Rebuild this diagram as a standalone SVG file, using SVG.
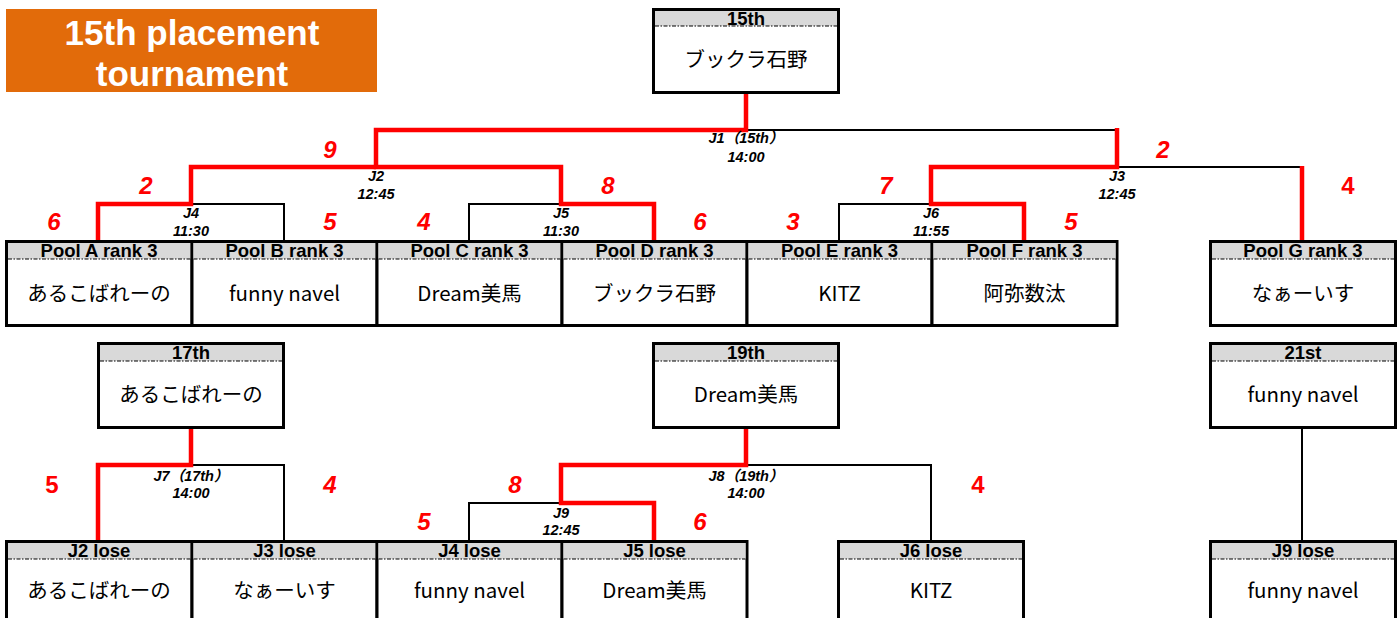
<svg xmlns="http://www.w3.org/2000/svg" width="1398" height="618" viewBox="0 0 1398 618">
<style>
.box{fill:#fff;stroke:#000;stroke-width:3}
.hd{fill:#d9d9d9}
.dash{stroke:#000;stroke-width:1.2;stroke-dasharray:4 1.5 1.5 1.5}
.ht{font-family:"Liberation Sans",Arial,sans-serif;font-weight:bold;font-size:18.5px;text-anchor:middle;fill:#000}
.nm{font-family:"Noto Sans CJK JP","Liberation Sans",sans-serif;font-size:20.5px;text-anchor:middle;fill:#000}
.blk{fill:none;stroke:#000;stroke-width:2}
.red{fill:none;stroke:#ff0000;stroke-width:4.5;stroke-linejoin:miter}
.ml{font-family:"Liberation Sans","Noto Sans CJK JP",Arial,sans-serif;font-weight:bold;font-style:italic;font-size:14.5px;text-anchor:middle;fill:#000}
.sc{font-family:"Liberation Sans",Arial,sans-serif;font-weight:bold;font-style:italic;font-size:24px;text-anchor:middle;fill:#ff0000}
.up{font-style:normal}
.title{font-family:"Liberation Sans",Arial,sans-serif;font-weight:bold;font-size:35px;text-anchor:middle;fill:#fff}
</style>

<g id="title">
<rect x="6" y="9" width="371" height="83" fill="#e26b0a"/>
<text class="title" x="192" y="45">15th placement</text>
<text class="title" x="192" y="86">tournament</text>
</g>

<g id="connectors">
<path class="blk" d="M746,130 H1117"/>
<path class="blk" d="M191,167 H376"/>
<path class="blk" d="M191,204 H284 V241"/>
<path class="blk" d="M561,204 H469 V241"/>
<path class="blk" d="M1117,167 H1302"/>
<path class="blk" d="M931,204 H839 V241"/>
<path class="red" d="M746,93 V130 H376 V167 H561 V204 H654 V241"/>
<path class="red" d="M376,167 H191 V204 H98 V241"/>
<path class="red" d="M1117,128 V167 H931 V204 H1024 V241"/>
<path class="red" d="M1302,166 V241"/>
<path class="blk" d="M191,465 H284 V541"/>
<path class="blk" d="M746,465 H931 V541"/>
<path class="blk" d="M561,503 H469 V541"/>
<path class="blk" d="M1302,428 V541"/>
<path class="red" d="M191,428 V465 H98 V541"/>
<path class="red" d="M746,428 V465 H561 V503 H654 V541"/>
</g>

<g id="match-labels">
<text class="ml" x="746" y="143">J1（15th）</text><text class="ml" x="746" y="162">14:00</text>
<text class="ml" x="376" y="181">J2</text><text class="ml" x="376" y="199">12:45</text>
<text class="ml" x="1117" y="181">J3</text><text class="ml" x="1117" y="199">12:45</text>
<text class="ml" x="191" y="218">J4</text><text class="ml" x="191" y="236">11:30</text>
<text class="ml" x="561" y="218">J5</text><text class="ml" x="561" y="236">11:30</text>
<text class="ml" x="931" y="218">J6</text><text class="ml" x="931" y="236">11:55</text>
<text class="ml" x="191" y="481">J7（17th）</text><text class="ml" x="191" y="498">14:00</text>
<text class="ml" x="746" y="481">J8（19th）</text><text class="ml" x="746" y="498">14:00</text>
<text class="ml" x="561" y="518">J9</text><text class="ml" x="561" y="535">12:45</text>
</g>

<g id="scores">
<text class="sc" x="330" y="158">9</text>
<text class="sc" x="146" y="194">2</text>
<text class="sc" x="54" y="230">6</text>
<text class="sc" x="330" y="230">5</text>
<text class="sc" x="608" y="194">8</text>
<text class="sc" x="424" y="230">4</text>
<text class="sc" x="700" y="230">6</text>
<text class="sc" x="886" y="194">7</text>
<text class="sc" x="793" y="230">3</text>
<text class="sc" x="1071" y="230">5</text>
<text class="sc" x="1163" y="158">2</text>
<text class="sc up" x="1348" y="194">4</text>
<text class="sc up" x="52" y="493">5</text>
<text class="sc" x="330" y="493">4</text>
<text class="sc" x="515" y="493">8</text>
<text class="sc up" x="978" y="493">4</text>
<text class="sc" x="424" y="530">5</text>
<text class="sc" x="700" y="530">6</text>
</g>

<g id="n15th"><rect class="box" x="653.5" y="9.5" width="185" height="83"/><rect class="hd" x="655" y="11" width="182" height="15"/><line class="dash" x1="655" y1="26" x2="837" y2="26"/><text class="ht" x="746" y="25">15th</text><text class="nm" x="746" y="67">ブックラ石野</text></g>

<g id="poolA"><rect class="box" x="6.5" y="241.5" width="185.5" height="84"/><rect class="hd" x="8" y="243" width="182.5" height="16"/><line class="dash" x1="8" y1="259" x2="190.5" y2="259"/><text class="ht" x="99" y="257">Pool A rank 3</text><text class="nm" x="99" y="301">あるこばれーの</text></g>
<g id="poolB"><rect class="box" x="192" y="241.5" width="185" height="84"/><rect class="hd" x="193.5" y="243" width="182" height="16"/><line class="dash" x1="193.5" y1="259" x2="375.5" y2="259"/><text class="ht" x="284.5" y="257">Pool B rank 3</text><text class="nm" x="284.5" y="301">funny navel</text></g>
<g id="poolC"><rect class="box" x="377" y="241.5" width="185" height="84"/><rect class="hd" x="378.5" y="243" width="182" height="16"/><line class="dash" x1="378.5" y1="259" x2="560.5" y2="259"/><text class="ht" x="469.5" y="257">Pool C rank 3</text><text class="nm" x="469.5" y="301">Dream美馬</text></g>
<g id="poolD"><rect class="box" x="562" y="241.5" width="185" height="84"/><rect class="hd" x="563.5" y="243" width="182" height="16"/><line class="dash" x1="563.5" y1="259" x2="745.5" y2="259"/><text class="ht" x="654.5" y="257">Pool D rank 3</text><text class="nm" x="654.5" y="301">ブックラ石野</text></g>
<g id="poolE"><rect class="box" x="747" y="241.5" width="185" height="84"/><rect class="hd" x="748.5" y="243" width="182" height="16"/><line class="dash" x1="748.5" y1="259" x2="930.5" y2="259"/><text class="ht" x="839.5" y="257">Pool E rank 3</text><text class="nm" x="839.5" y="301">KITZ</text></g>
<g id="poolF"><rect class="box" x="932" y="241.5" width="185" height="84"/><rect class="hd" x="933.5" y="243" width="182" height="16"/><line class="dash" x1="933.5" y1="259" x2="1115.5" y2="259"/><text class="ht" x="1024.5" y="257">Pool F rank 3</text><text class="nm" x="1024.5" y="301">阿弥数汰</text></g>
<g id="poolG"><rect class="box" x="1210.5" y="241.5" width="185" height="84"/><rect class="hd" x="1212" y="243" width="182" height="16"/><line class="dash" x1="1212" y1="259" x2="1394" y2="259"/><text class="ht" x="1303" y="257">Pool G rank 3</text><text class="nm" x="1303" y="301">なぁーいす</text></g>

<g id="n17th"><rect class="box" x="98.5" y="343.5" width="185" height="84"/><rect class="hd" x="100" y="345" width="182" height="16"/><line class="dash" x1="100" y1="361" x2="282" y2="361"/><text class="ht" x="191" y="359">17th</text><text class="nm" x="191" y="402">あるこばれーの</text></g>
<g id="n19th"><rect class="box" x="653.5" y="343.5" width="185" height="84"/><rect class="hd" x="655" y="345" width="182" height="16"/><line class="dash" x1="655" y1="361" x2="837" y2="361"/><text class="ht" x="746" y="359">19th</text><text class="nm" x="746" y="402">Dream美馬</text></g>
<g id="n21st"><rect class="box" x="1210.5" y="343.5" width="185" height="84"/><rect class="hd" x="1212" y="345" width="182" height="16"/><line class="dash" x1="1212" y1="361" x2="1394" y2="361"/><text class="ht" x="1303" y="359">21st</text><text class="nm" x="1303" y="402">funny navel</text></g>

<g id="j2lose"><rect class="box" x="6.5" y="541.5" width="185.5" height="84"/><rect class="hd" x="8" y="543" width="182.5" height="16"/><line class="dash" x1="8" y1="559" x2="190.5" y2="559"/><text class="ht" x="99" y="557">J2 lose</text><text class="nm" x="99" y="598">あるこばれーの</text></g>
<g id="j3lose"><rect class="box" x="192" y="541.5" width="185" height="84"/><rect class="hd" x="193.5" y="543" width="182" height="16"/><line class="dash" x1="193.5" y1="559" x2="375.5" y2="559"/><text class="ht" x="284.5" y="557">J3 lose</text><text class="nm" x="284.5" y="598">なぁーいす</text></g>
<g id="j4lose"><rect class="box" x="377" y="541.5" width="185" height="84"/><rect class="hd" x="378.5" y="543" width="182" height="16"/><line class="dash" x1="378.5" y1="559" x2="560.5" y2="559"/><text class="ht" x="469.5" y="557">J4 lose</text><text class="nm" x="469.5" y="598">funny navel</text></g>
<g id="j5lose"><rect class="box" x="562" y="541.5" width="185" height="84"/><rect class="hd" x="563.5" y="543" width="182" height="16"/><line class="dash" x1="563.5" y1="559" x2="745.5" y2="559"/><text class="ht" x="654.5" y="557">J5 lose</text><text class="nm" x="654.5" y="598">Dream美馬</text></g>
<g id="j6lose"><rect class="box" x="838.5" y="541.5" width="185" height="84"/><rect class="hd" x="840" y="543" width="182" height="16"/><line class="dash" x1="840" y1="559" x2="1022" y2="559"/><text class="ht" x="931" y="557">J6 lose</text><text class="nm" x="931" y="598">KITZ</text></g>
<g id="j9lose"><rect class="box" x="1210.5" y="541.5" width="185" height="84"/><rect class="hd" x="1212" y="543" width="182" height="16"/><line class="dash" x1="1212" y1="559" x2="1394" y2="559"/><text class="ht" x="1303" y="557">J9 lose</text><text class="nm" x="1303" y="598">funny navel</text></g>
</svg>
